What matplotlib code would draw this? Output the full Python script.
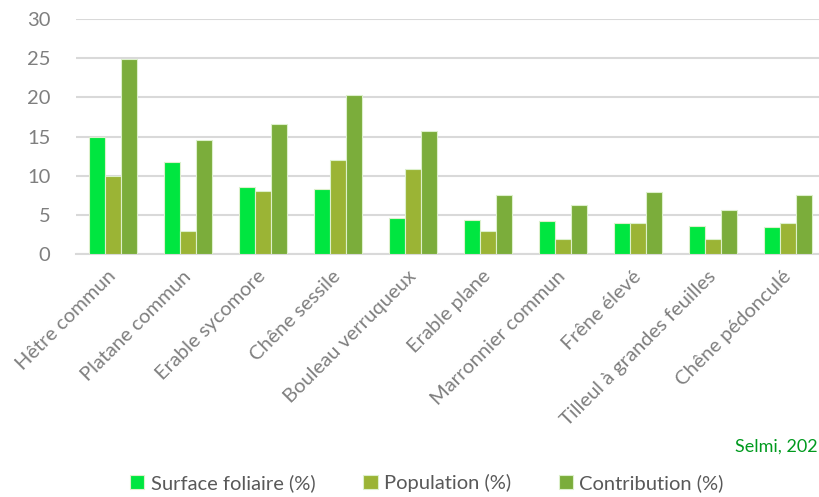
import matplotlib.pyplot as plt
import numpy as np

plt.rcParams['font.family'] = ['Lato', 'DejaVu Sans']

species = ['Hêtre commun', 'Platane commun', 'Erable sycomore', 'Chêne sessile',
           'Bouleau verruqueux', 'Erable plane', 'Marronnier commun', 'Frêne élevé',
           'Tilleul à grandes feuilles', 'Chêne pédonculé']
surface = [15.0, 11.7, 8.5, 8.3, 4.6, 4.3, 4.2, 3.9, 3.6, 3.4]
population = [10, 3, 8, 12, 10.9, 3, 1.9, 3.9, 1.9, 3.9]
contribution = [24.9, 14.6, 16.6, 20.3, 15.7, 7.5, 6.2, 7.9, 5.6, 7.5]
series = ['Surface foliaire (%)', 'Population (%)', 'Contribution (%)']
colors = ['#00E640', '#9BB435', '#7BAD3B']

fig = plt.figure(figsize=(8.19, 4.97), dpi=100)
ax = fig.add_axes([75.5 / 819, 243 / 497, 750 / 819, 235 / 497])

x = np.arange(len(species))
w = 0.217
for i, (vals, lab, c) in enumerate(zip([surface, population, contribution], series, colors)):
    ax.bar(x + (i - 1) * w, vals, w, color=c, edgecolor='#DDF0CC', linewidth=0.8,
           label=lab, zorder=3)

ax.set_xlim(-0.5, len(species) - 0.5)
ax.set_ylim(0, 30)
ax.set_yticks(range(0, 31, 5))
ax.yaxis.grid(True, color='#D9D9D9', linewidth=1.5, zorder=0)
ax.set_axisbelow(True)
for s in ['top', 'right', 'left']:
    ax.spines[s].set_visible(False)
ax.spines['bottom'].set_color('#D9D9D9')
ax.spines['bottom'].set_linewidth(1.5)
ax.tick_params(axis='both', length=0, colors='#7F7F7F', labelsize=14.5)
ax.tick_params(axis='y', pad=18)
ax.set_xticks(x)
ax.set_xticklabels(species, rotation=45, ha='right', va='center', rotation_mode='anchor')
ax.tick_params(axis='x', pad=14)

fig.text(818 / 819, 1 - 447 / 497, 'Selmi, 202', color='#009A1E', fontsize=13,
         va='center', ha='right')
fig.legend(loc='center', bbox_to_anchor=(427 / 819, 1 - 483 / 497), ncol=3, frameon=False,
           fontsize=14.5, labelcolor='#595959', handlelength=0.7, handleheight=0.7,
           handletextpad=0.3, columnspacing=2.4)

fig.savefig('out.png', dpi=100)
